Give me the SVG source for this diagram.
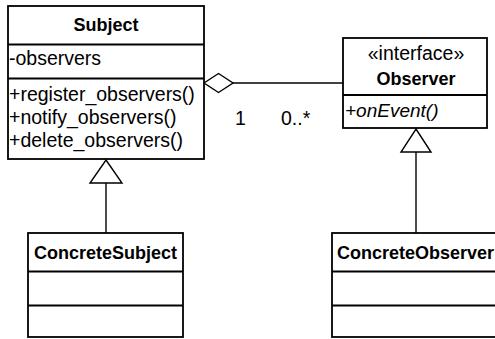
<svg xmlns="http://www.w3.org/2000/svg" width="495" height="339" viewBox="0 0 495 339">
<style>
.box{fill:#fff;stroke:#000;stroke-width:1.8}
.sep{stroke:#000;stroke-width:1.8}
.con{stroke:#000;stroke-width:1.4;fill:none}
.head{fill:#fff;stroke:#000;stroke-width:1.4}
text{font-family:"Liberation Sans",Arial,sans-serif;font-size:19.5px;fill:#000}
.b{font-weight:bold;font-size:18px}
.c{text-anchor:middle}
.i{font-style:italic;font-size:19px}
</style>
<rect width="495" height="339" fill="#fff"/>
<g id="connectors">
<line class="con" x1="233" y1="83" x2="343" y2="83"/>
<polygon class="head" points="204,83 218.5,73.5 233,83 218.5,92.5"/>
<line class="con" x1="106" y1="183" x2="106" y2="233"/>
<polygon class="head" points="106,160 122,183 90,183"/>
<line class="con" x1="416" y1="152" x2="416" y2="233"/>
<polygon class="head" points="416,129 431,152 401,152"/>
<text x="235" y="125">1</text>
<text x="281" y="125">0..*</text>
</g>
<g id="Subject">
<rect class="box" x="8" y="6" width="196" height="153"/>
<line class="sep" x1="8" y1="44.5" x2="204" y2="44.5"/>
<line class="sep" x1="8" y1="78.5" x2="204" y2="78.5"/>
<text class="b c" x="106" y="31">Subject</text>
<text x="9" y="65">-observers</text>
<text x="9" y="101">+register_observers()</text>
<text x="9" y="124">+notify_observers()</text>
<text x="9" y="147">+delete_observers()</text>
</g>
<g id="Observer">
<rect class="box" x="343" y="38" width="144" height="90"/>
<line class="sep" x1="343" y1="95" x2="487" y2="95"/>
<text class="c" x="416" y="60">«interface»</text>
<text class="b c" x="416" y="85">Observer</text>
<text class="i" x="345" y="117">+onEvent()</text>
</g>
<g id="ConcreteSubject">
<rect class="box" x="28" y="233" width="155" height="104"/>
<line class="sep" x1="28" y1="271.5" x2="183" y2="271.5"/>
<line class="sep" x1="28" y1="305.5" x2="183" y2="305.5"/>
<text class="b" x="34" y="259">ConcreteSubject</text>
</g>
<g id="ConcreteObserver">
<rect class="box" x="332" y="233" width="170" height="104"/>
<line class="sep" x1="332" y1="271.5" x2="502" y2="271.5"/>
<line class="sep" x1="332" y1="305.5" x2="502" y2="305.5"/>
<text class="b" x="337" y="259">ConcreteObserver</text>
</g>
</svg>
